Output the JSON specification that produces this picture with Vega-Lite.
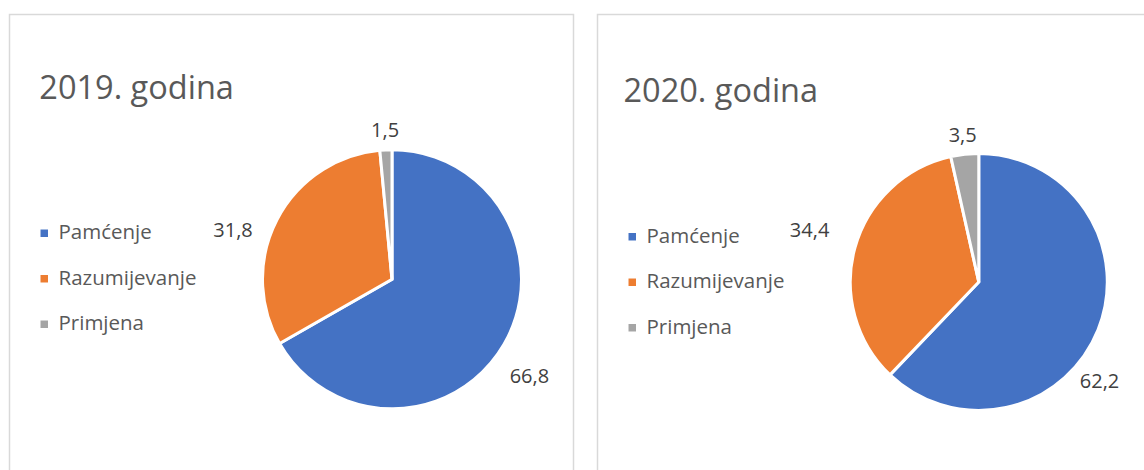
{
  "$schema": "https://vega.github.io/schema/vega-lite/v6.json",
  "padding": {"left": 8.5, "top": 13.5, "right": 0, "bottom": 0},
  "data": {"values": [
    {"godina": 2019, "kategorija": "Pamćenje", "redoslijed": 1, "vrijednost": 66.8},
    {"godina": 2019, "kategorija": "Razumijevanje", "redoslijed": 2, "vrijednost": 31.8},
    {"godina": 2019, "kategorija": "Primjena", "redoslijed": 3, "vrijednost": 1.5},
    {"godina": 2020, "kategorija": "Pamćenje", "redoslijed": 1, "vrijednost": 62.2},
    {"godina": 2020, "kategorija": "Razumijevanje", "redoslijed": 2, "vrijednost": 34.4},
    {"godina": 2020, "kategorija": "Primjena", "redoslijed": 3, "vrijednost": 3.5}
  ]},
  "spacing": 22,
  "resolve": {"legend": {"color": "independent"}},
  "hconcat": [
    {
      "width": 564,
      "height": 457,
      "title": {"text": "2019. godina", "anchor": "start", "frame": "group", "orient": "top", "offset": -85.8, "baseline": "alphabetic", "dx": 29.8, "dy": 31, "fontSize": 32.5, "font": "Open Sans", "color": "#595959", "fontWeight": "normal"},
      "transform": [{"filter": "datum.godina == 2019"}],
      "encoding": {
        "x": {"datum": 0.6782, "type": "quantitative", "scale": {"domain": [0, 1]}, "axis": null},
        "y": {"datum": 0.5794, "type": "quantitative", "scale": {"domain": [0, 1], "reverse": true}, "axis": null},
        "theta": {"field": "vrijednost", "type": "quantitative", "stack": true},
        "order": {"field": "redoslijed", "type": "quantitative"}
      },
      "layer": [
        {
          "mark": {"type": "arc", "outerRadius": 129.5, "stroke": "white", "strokeWidth": 3},
          "encoding": {
            "color": {"field": "kategorija", "type": "nominal",
              "scale": {"domain": ["Pamćenje", "Razumijevanje", "Primjena"], "range": ["#4472C4", "#ED7D31", "#A5A5A5"]},
              "legend": {"orient": "none", "legendX": 24.5, "legendY": 208.5, "title": null, "padding": 0}}
          }
        },
        {
          "mark": {"type": "text", "radius": 148, "fontSize": 20, "font": "Open Sans"},
          "encoding": {
            "detail": {"field": "kategorija"},
            "text": {"field": "vrijednost", "type": "quantitative", "format": ".1f"},
            "color": {"value": "#404040"},
            "opacity": {"condition": {"test": "datum.kategorija === 'Primjena'", "value": 1}, "value": 0}
          }
        },
        {
          "mark": {"type": "text", "radius": 165, "dx": -12.5, "dy": 28, "fontSize": 20, "font": "Open Sans"},
          "encoding": {
            "detail": {"field": "kategorija"},
            "text": {"field": "vrijednost", "type": "quantitative", "format": ".1f"},
            "color": {"value": "#404040"},
            "opacity": {"condition": {"test": "datum.kategorija === 'Razumijevanje'", "value": 1}, "value": 0}
          }
        },
        {
          "mark": {"type": "text", "radius": 160, "dx": -1, "dy": 17, "fontSize": 20, "font": "Open Sans"},
          "encoding": {
            "detail": {"field": "kategorija"},
            "text": {"field": "vrijednost", "type": "quantitative", "format": ".1f"},
            "color": {"value": "#404040"},
            "opacity": {"condition": {"test": "datum.kategorija === 'Pamćenje'", "value": 1}, "value": 0}
          }
        }
      ]
    },
    {
      "width": 549,
      "height": 457,
      "title": {"text": "2020. godina", "anchor": "start", "frame": "group", "orient": "top", "offset": -85.8, "baseline": "alphabetic", "dx": 26, "dy": 34, "fontSize": 32.5, "font": "Open Sans", "color": "#595959", "fontWeight": "normal"},
      "transform": [{"filter": "datum.godina == 2020"}],
      "encoding": {
        "x": {"datum": 0.6945, "type": "quantitative", "scale": {"domain": [0, 1]}, "axis": null},
        "y": {"datum": 0.5853, "type": "quantitative", "scale": {"domain": [0, 1], "reverse": true}, "axis": null},
        "theta": {"field": "vrijednost", "type": "quantitative", "stack": true},
        "order": {"field": "redoslijed", "type": "quantitative"}
      },
      "layer": [
        {
          "mark": {"type": "arc", "outerRadius": 128.5, "stroke": "white", "strokeWidth": 3},
          "encoding": {
            "color": {"field": "kategorija", "type": "nominal",
              "scale": {"domain": ["Pamćenje", "Razumijevanje", "Primjena"], "range": ["#4472C4", "#ED7D31", "#A5A5A5"]},
              "legend": {"orient": "none", "legendX": 24.5, "legendY": 212, "title": null, "padding": 0}}
          }
        },
        {
          "mark": {"type": "text", "radius": 147, "fontSize": 20, "font": "Open Sans"},
          "encoding": {
            "detail": {"field": "kategorija"},
            "text": {"field": "vrijednost", "type": "quantitative", "format": ".1f"},
            "color": {"value": "#404040"},
            "opacity": {"condition": {"test": "datum.kategorija === 'Primjena'", "value": 1}, "value": 0}
          }
        },
        {
          "mark": {"type": "text", "radius": 172, "dx": -3.5, "dy": -5, "fontSize": 20, "font": "Open Sans"},
          "encoding": {
            "detail": {"field": "kategorija"},
            "text": {"field": "vrijednost", "type": "quantitative", "format": ".1f"},
            "color": {"value": "#404040"},
            "opacity": {"condition": {"test": "datum.kategorija === 'Razumijevanje'", "value": 1}, "value": 0}
          }
        },
        {
          "mark": {"type": "text", "radius": 150, "dx": -18.5, "dy": 43.7, "fontSize": 20, "font": "Open Sans"},
          "encoding": {
            "detail": {"field": "kategorija"},
            "text": {"field": "vrijednost", "type": "quantitative", "format": ".1f"},
            "color": {"value": "#404040"},
            "opacity": {"condition": {"test": "datum.kategorija === 'Pamćenje'", "value": 1}, "value": 0}
          }
        }
      ]
    }
  ],
  "config": {
    "locale": {"number": {"decimal": ",", "thousands": ".", "grouping": [3], "currency": ["", " €"]}},
    "font": "Open Sans",
    "view": {"stroke": "#d9d9d9", "strokeWidth": 1.5},
    "legend": {
      "labelFont": "Open Sans", "labelFontSize": 20.5, "labelColor": "#595959",
      "symbolType": "square", "symbolSize": 56, "symbolStrokeWidth": 0,
      "labelOffset": 4, "rowPadding": 24.5, "symbolOffset": 0, "labelLimit": 300
    }
  }
}
